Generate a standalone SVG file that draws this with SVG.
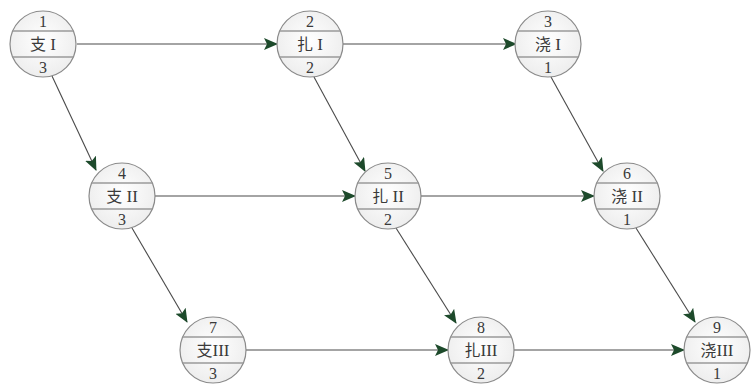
<svg xmlns="http://www.w3.org/2000/svg" width="753" height="385" viewBox="0 0 753 385">
  <defs>
    <radialGradient id="disc" cx="50%" cy="45%" r="60%">
      <stop offset="0%" stop-color="#ffffff"/>
      <stop offset="100%" stop-color="#ececec"/>
    </radialGradient>
    <marker id="head" viewBox="0 0 14 12" refX="13" refY="6" markerWidth="14" markerHeight="12" markerUnits="userSpaceOnUse" orient="auto">
      <path d="M0,0 L14,6 L0,12 L3,6 Z" fill="#1d4a2b"/>
    </marker>
    <!-- one activity node: circle with two chords -->
    <g id="disc-shape">
      <circle cx="0" cy="0" r="33" fill="url(#disc)" stroke="#8a8a8a" stroke-width="1.2"/>
      <line x1="-30.3" y1="-13" x2="30.3" y2="-13" class="chord"/>
      <line x1="-30.3" y1="13" x2="30.3" y2="13" class="chord"/>
    </g>
  </defs>
  <style>
    .chord { stroke: #9a9a9a; stroke-width: 1.6; }
    .num { font-family: "Liberation Serif", "DejaVu Serif", serif; font-size: 16px; fill: #3a3a3a; text-anchor: middle; }
    .name { font-family: "Noto Sans CJK SC", sans-serif; font-size: 16px; fill: #3a3a3a; text-anchor: middle; }
    .rn { font-family: "Liberation Serif", "DejaVu Serif", serif; font-size: 17px; }
    .edge { stroke: #4a4a4a; stroke-width: 1.1; fill: none; marker-end: url(#head); }
  </style>
  <rect width="753" height="385" fill="#ffffff"/>

  <g id="connectors">
    <line class="edge" x1="77" y1="44" x2="277" y2="44"/>
    <line class="edge" x1="343" y1="44" x2="516" y2="44"/>
    <line class="edge" x1="155" y1="196" x2="355" y2="196"/>
    <line class="edge" x1="421" y1="196" x2="594" y2="196"/>
    <line class="edge" x1="246" y1="350" x2="448" y2="350"/>
    <line class="edge" x1="514" y1="350" x2="684" y2="350"/>
    <line class="edge" x1="52" y1="76" x2="96" y2="170"/>
    <line class="edge" x1="314" y1="77" x2="365" y2="171"/>
    <line class="edge" x1="551" y1="77" x2="603" y2="171"/>
    <line class="edge" x1="132" y1="228" x2="187" y2="322"/>
    <line class="edge" x1="396" y1="228" x2="456" y2="323"/>
    <line class="edge" x1="636" y1="228" x2="695" y2="322"/>
  </g>

  <g id="node1" transform="translate(43,44)">
    <use href="#disc-shape"/>
    <text class="num" x="0" y="-17">1</text>
    <text class="name" x="0" y="6">支<tspan class="rn"> I</tspan></text>
    <text class="num" x="0" y="29">3</text>
  </g>
  <g id="node2" transform="translate(310,44)">
    <use href="#disc-shape"/>
    <text class="num" x="0" y="-17">2</text>
    <text class="name" x="0" y="6">扎<tspan class="rn"> I</tspan></text>
    <text class="num" x="0" y="29">2</text>
  </g>
  <g id="node3" transform="translate(548,44)">
    <use href="#disc-shape"/>
    <text class="num" x="0" y="-17">3</text>
    <text class="name" x="0" y="6">浇<tspan class="rn"> I</tspan></text>
    <text class="num" x="0" y="29">1</text>
  </g>
  <g id="node4" transform="translate(122,196)">
    <use href="#disc-shape"/>
    <text class="num" x="0" y="-17">4</text>
    <text class="name" x="0" y="6">支<tspan class="rn"> II</tspan></text>
    <text class="num" x="0" y="29">3</text>
  </g>
  <g id="node5" transform="translate(388,196)">
    <use href="#disc-shape"/>
    <text class="num" x="0" y="-17">5</text>
    <text class="name" x="0" y="6">扎<tspan class="rn"> II</tspan></text>
    <text class="num" x="0" y="29">2</text>
  </g>
  <g id="node6" transform="translate(627,196)">
    <use href="#disc-shape"/>
    <text class="num" x="0" y="-17">6</text>
    <text class="name" x="0" y="6">浇<tspan class="rn"> II</tspan></text>
    <text class="num" x="0" y="29">1</text>
  </g>
  <g id="node7" transform="translate(213,350)">
    <use href="#disc-shape"/>
    <text class="num" x="0" y="-17">7</text>
    <text class="name" x="0" y="6">支<tspan class="rn">III</tspan></text>
    <text class="num" x="0" y="29">3</text>
  </g>
  <g id="node8" transform="translate(481,350)">
    <use href="#disc-shape"/>
    <text class="num" x="0" y="-17">8</text>
    <text class="name" x="0" y="6">扎<tspan class="rn">III</tspan></text>
    <text class="num" x="0" y="29">2</text>
  </g>
  <g id="node9" transform="translate(717,350)">
    <use href="#disc-shape"/>
    <text class="num" x="0" y="-17">9</text>
    <text class="name" x="0" y="6">浇<tspan class="rn">III</tspan></text>
    <text class="num" x="0" y="29">1</text>
  </g>
</svg>
